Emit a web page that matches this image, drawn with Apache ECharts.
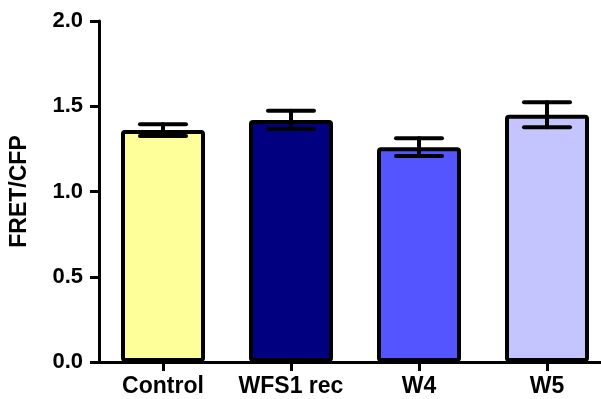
<!DOCTYPE html>
<html>
<head>
<meta charset="utf-8">
<script src="https://cdn.jsdelivr.net/npm/echarts@6/dist/echarts.min.js"></script>
<style>html,body{margin:0;padding:0;background:#fff}#c{width:601px;height:399px}</style>
</head>
<body>
<div id="c"></div>
<script>
var categories = ['Control', 'WFS1 rec', 'W4', 'W5'];
var means = [1.36, 1.42, 1.26, 1.45];
var errors = [0.035, 0.053, 0.052, 0.073];
var colors = ['#FFFF99', '#000080', '#5555FF', '#C4C4FF'];
var yTicks = [0, 0.5, 1.0, 1.5, 2.0];

var chart = echarts.init(document.getElementById('c'), null, {renderer: 'canvas'});
var font = 'Liberation Sans';
var option = {
  animation: false,
  grid: {left: 99, top: 21, width: 512, bottom: 37, outerBoundsMode: 'none', containLabel: false},
  xAxis: {
    type: 'category',
    data: categories,
    axisLine: {lineStyle: {color: '#000', width: 3}},
    axisTick: {show: true, alignWithLabel: true, length: 9, lineStyle: {color: '#000', width: 3}},
    axisLabel: {interval: 0, hideOverlap: false, color: '#000', fontFamily: font, fontWeight: 'bold', fontSize: 23, margin: 13}
  },
  yAxis: {
    type: 'value',
    min: yTicks[0], max: yTicks[yTicks.length - 1], interval: 0.5,
    name: 'FRET/CFP',
    nameLocation: 'middle',
    nameGap: 68,
    nameTextStyle: {color: '#000', fontFamily: font, fontWeight: 'bold', fontSize: 23},
    axisLine: {show: true, lineStyle: {color: '#000', width: 3}},
    axisTick: {show: true, length: 9, lineStyle: {color: '#000', width: 3}},
    axisLabel: {color: '#000', fontFamily: font, fontWeight: 'bold', fontSize: 22, margin: 16,
      formatter: function (v) { return v.toFixed(1); }},
    splitLine: {show: false}
  },
  series: [
    {
      type: 'bar',
      barWidth: 84,
      data: means.map(function (m, i) {
        return {value: m, itemStyle: {color: colors[i]}};
      }),
      itemStyle: {borderColor: '#000', borderWidth: 4, borderRadius: 2},
      z: 2
    },
    {
      type: 'custom',
      z: 5,
      data: means.map(function (m, i) { return [i, m, errors[i]]; }),
      renderItem: function (params, api) {
        var i = api.value(0), m = api.value(1), e = api.value(2);
        var top = api.coord([i, m + e]);
        var bot = api.coord([i, m - e]);
        var hw = 23;
        var st = {stroke: '#000', lineWidth: 4, lineCap: 'round'};
        return {
          type: 'group',
          children: [
            {type: 'line', shape: {x1: top[0], y1: top[1], x2: bot[0], y2: bot[1]}, style: st},
            {type: 'line', shape: {x1: top[0] - hw, y1: top[1], x2: top[0] + hw, y2: top[1]}, style: st},
            {type: 'line', shape: {x1: bot[0] - hw, y1: bot[1], x2: bot[0] + hw, y2: bot[1]}, style: st}
          ]
        };
      }
    }
  ]
};
chart.setOption(option);
</script>
</body>
</html>
